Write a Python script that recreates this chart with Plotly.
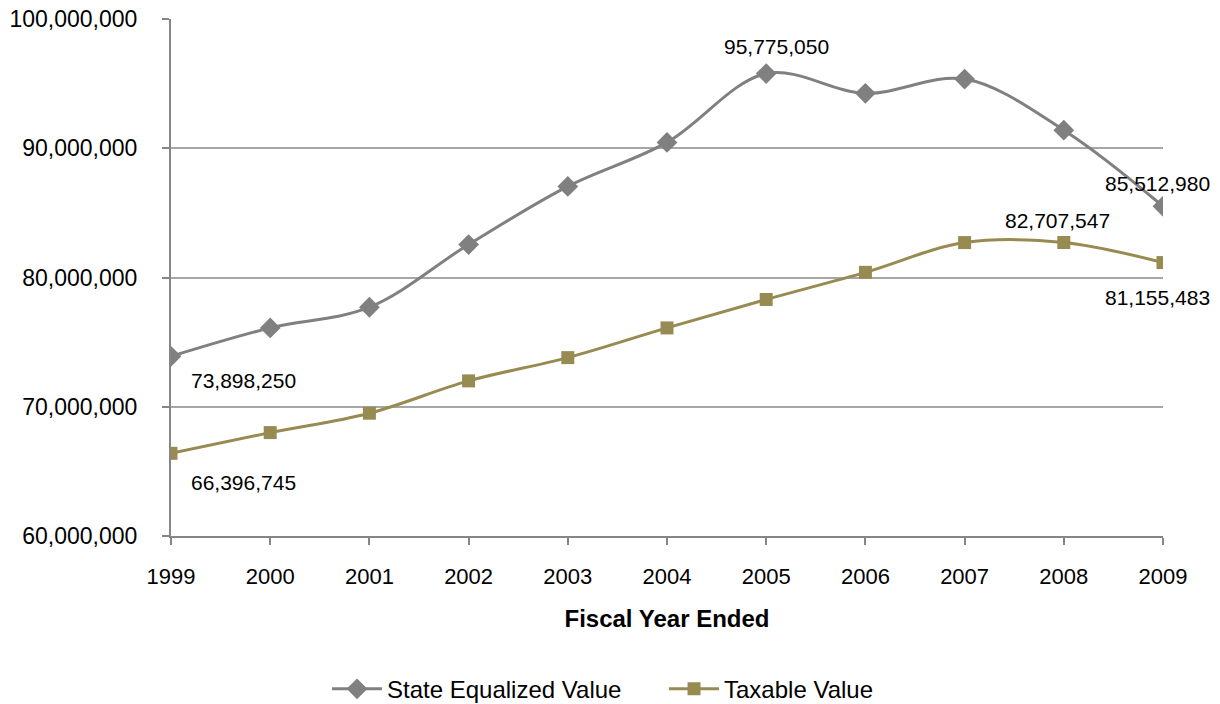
import plotly.graph_objects as go

years = [1999, 2000, 2001, 2002, 2003, 2004, 2005, 2006, 2007, 2008, 2009]
state_equalized = [73898250, 76100000, 77700000, 82550000, 87050000, 90450000,
                   95775050, 94250000, 95350000, 91400000, 85512980]
taxable = [66396745, 68000000, 69500000, 72000000, 73800000, 76100000,
           78300000, 80400000, 82700000, 82707547, 81155483]
y_ticks = [60000000, 70000000, 80000000, 90000000, 100000000]

sev_color = "#808080"
tax_color = "#978B52"
axis_color = "#868686"
font_family = "Liberation Sans, Arial, sans-serif"

fig = go.Figure()
fig.add_trace(go.Scatter(
    x=years, y=state_equalized, name="State Equalized Value",
    mode="lines+markers", line=dict(color=sev_color, width=3, shape="spline", smoothing=1.0),
    marker=dict(symbol="diamond", size=16, color=sev_color),
))
fig.add_trace(go.Scatter(
    x=years, y=taxable, name="Taxable Value",
    mode="lines+markers", line=dict(color=tax_color, width=3, shape="spline", smoothing=1.0),
    marker=dict(symbol="square", size=13, color=tax_color),
))

def lab(x, y, xanchor, yanchor, xshift, yshift):
    fig.add_annotation(x=x, y=y, text=f"{y:,}", showarrow=False,
                       xanchor=xanchor, yanchor=yanchor, xshift=xshift, yshift=yshift,
                       font=dict(size=21, color="#000000", family=font_family))

lab(years[0], state_equalized[0], "left", "top", 18, -11)
lab(years[0], taxable[0], "left", "top", 18, -16)
lab(years[6], state_equalized[6], "center", "bottom", 10, 14)
lab(years[10], state_equalized[10], "center", "bottom", -6, 9)
lab(years[9], taxable[9], "center", "bottom", -6, 9)
lab(years[10], taxable[10], "center", "top", -6, -21)

fig.update_layout(
    width=1220, height=704,
    margin=dict(l=171, r=57, t=19, b=168, autoexpand=False),
    paper_bgcolor="white", plot_bgcolor="white",
    font=dict(family=font_family, size=21, color="#000000"),
    showlegend=True,
    legend=dict(orientation="h", x=0.497, xanchor="center",
                yref="container", y=0.021, yanchor="middle",
                font=dict(size=24), itemwidth=50,
                entrywidth=272, entrywidthmode="pixels"),
    xaxis=dict(
        range=[1999, 2009], tickvals=years, ticktext=[str(y) for y in years],
        showgrid=False, showline=True, linecolor=axis_color, linewidth=2,
        ticks="outside", ticklen=7, tickcolor=axis_color, tickwidth=2,
        tickfont=dict(size=22), zeroline=False, automargin=False,
        ticklabelstandoff=13,
        title=dict(text="<b>Fiscal Year Ended</b>", font=dict(size=24), standoff=22),
    ),
    yaxis=dict(
        range=[60000000, 100000000], tickvals=y_ticks,
        ticktext=[f"{v:,}" for v in y_ticks],
        showgrid=True, gridcolor="#A6A6A6", gridwidth=1.5,
        showline=True, linecolor=axis_color, linewidth=2,
        ticks="outside", ticklen=7, tickcolor=axis_color, tickwidth=2,
        tickfont=dict(size=23), zeroline=False, automargin=False,
        ticklabelstandoff=20,
    ),
)

fig.write_html("out.html")
